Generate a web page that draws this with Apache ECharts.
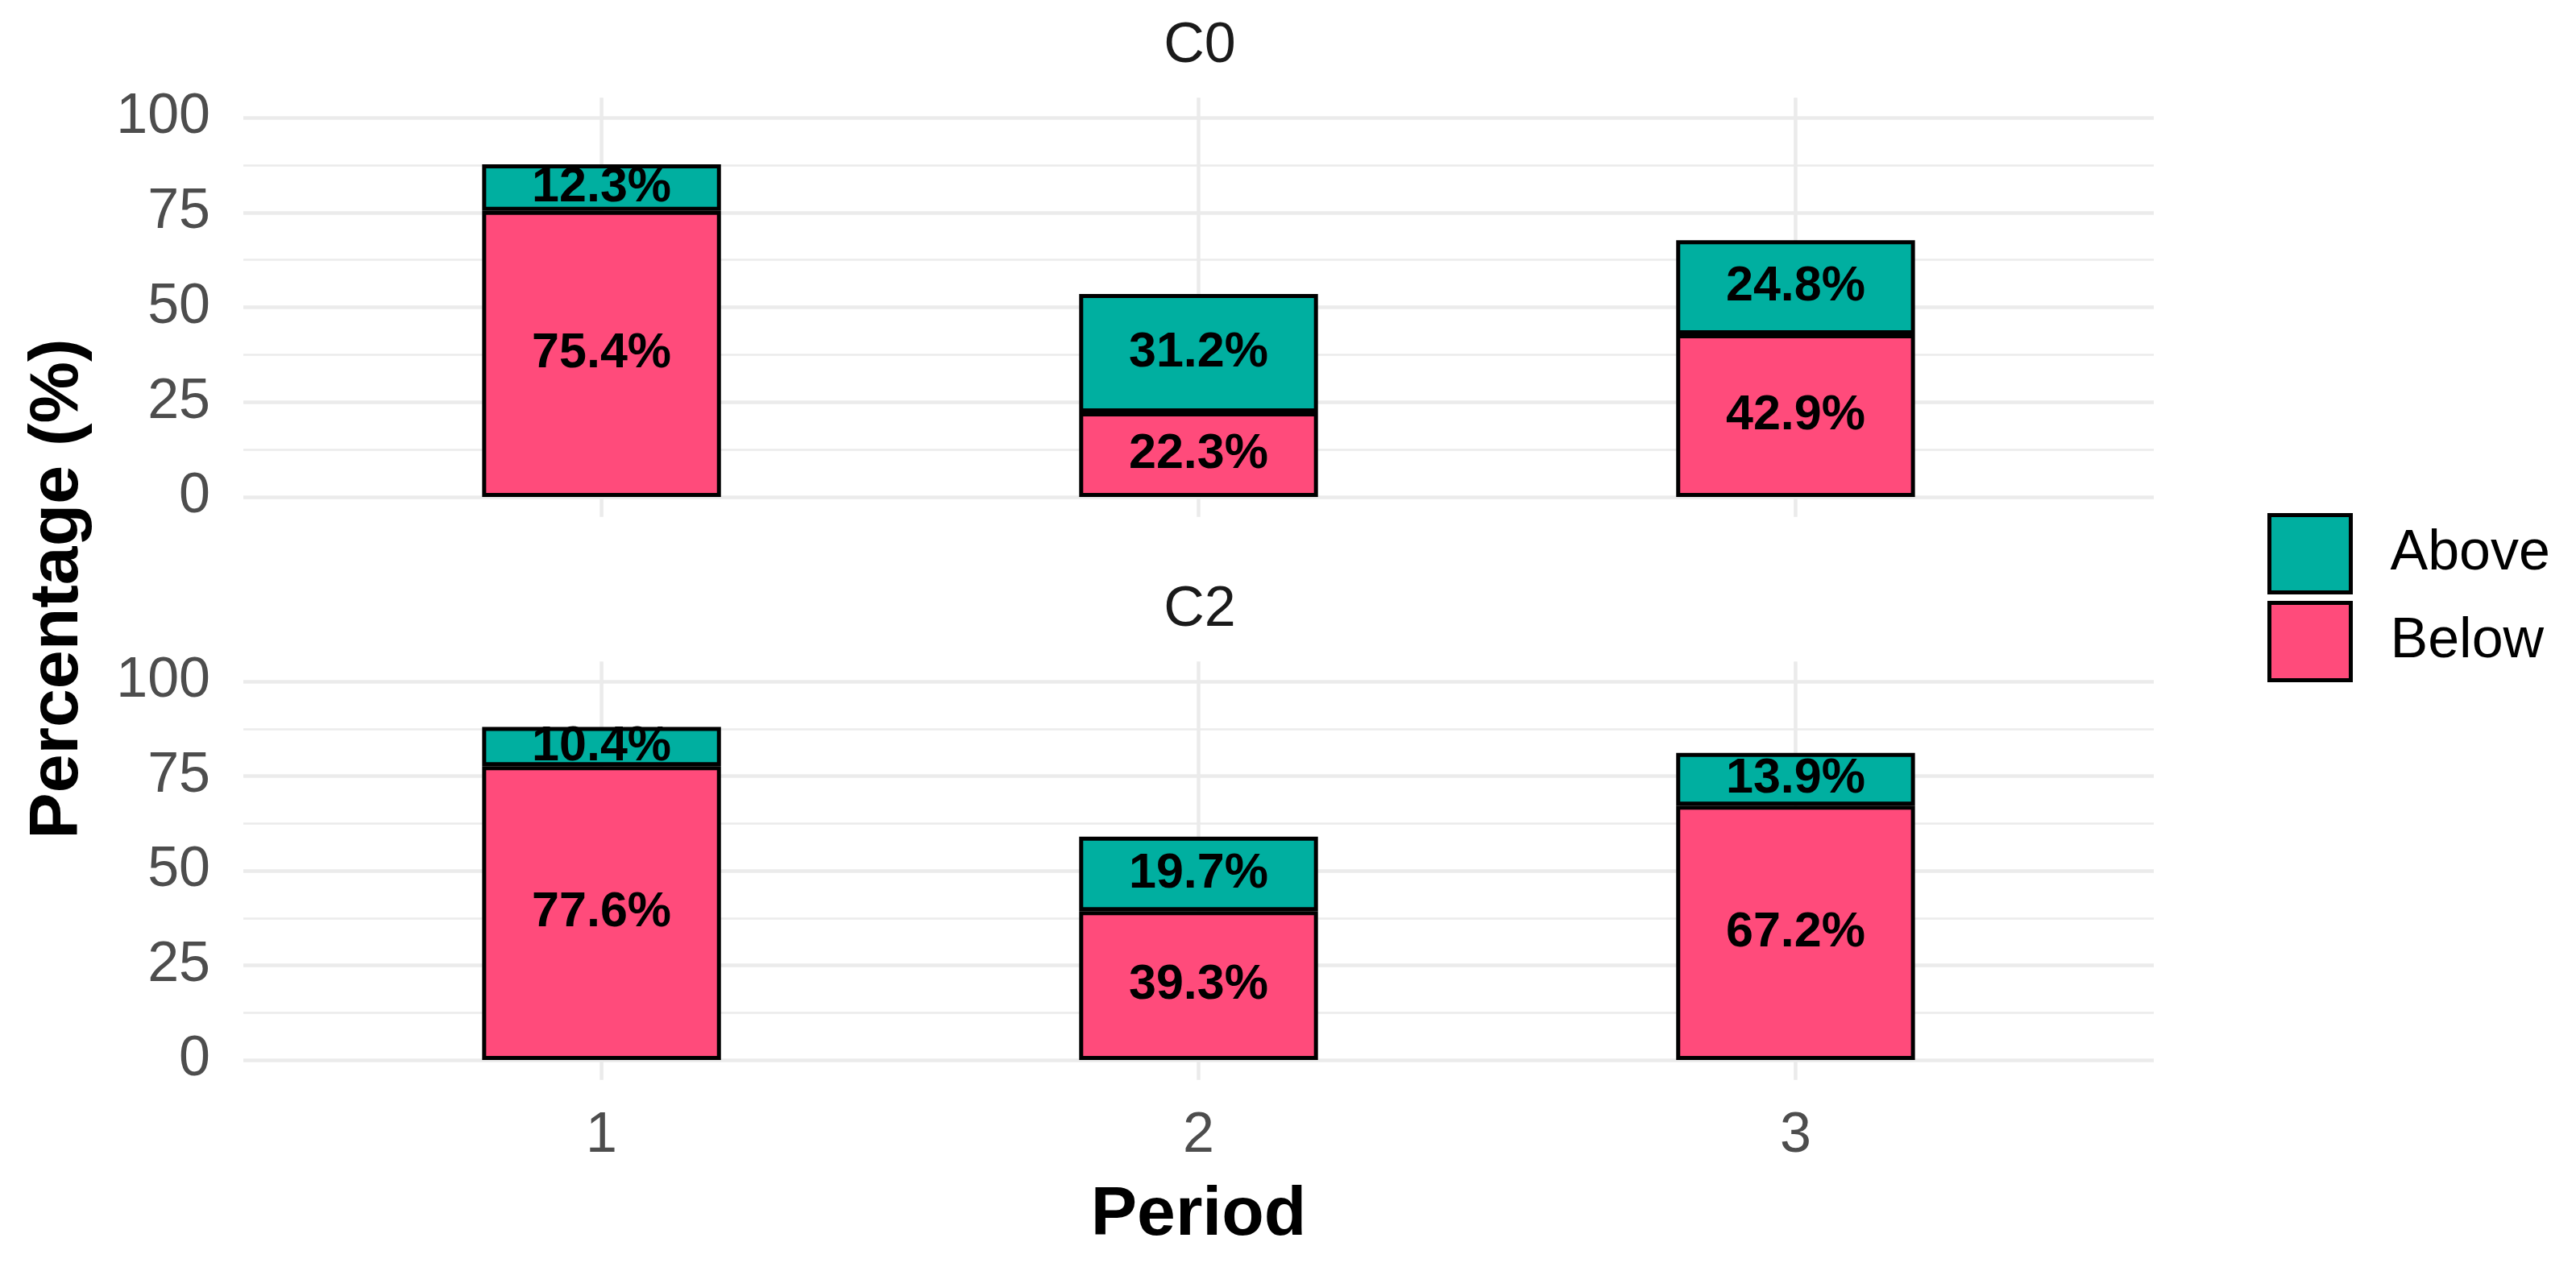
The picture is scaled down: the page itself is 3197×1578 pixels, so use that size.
<!DOCTYPE html>
<html>
<head>
<meta charset="utf-8">
<script src="https://cdn.jsdelivr.net/npm/echarts@6/dist/echarts.min.js"></script>
<style>
html, body { margin: 0; padding: 0; background: #ffffff; }
#chart { width: 3197px; height: 1578px; }
</style>
</head>
<body>
<div id="chart"></div>
<script>
// ---- data ----
const periods = ['1', '2', '3'];
const panels = ['C0', 'C2'];
const c0Below = [75.4, 22.3, 42.9];
const c0Above = [12.3, 31.2, 24.8];
const c2Below = [77.6, 39.3, 67.2];
const c2Above = [10.4, 19.7, 13.9];
const yTicks = [0, 25, 50, 75, 100];

const FONT = 'Liberation Sans, Arial, sans-serif';
const TEAL = '#00AFA0';
const PINK = '#FF4B7B';
const GRID = '#EBEBEB';
const TXT = 70;

const chart = echarts.init(document.getElementById('chart'), null, { renderer: 'canvas' });

// panel layout: full panel (with ggplot-style 0.6 category expansion) and the category band area
const PANEL_LEFT = 302, PANEL_W = 2371;
const UNIT = PANEL_W / (periods.length + 0.2);   // width of one category step
const BAND_LEFT = PANEL_LEFT + 0.1 * UNIT, BAND_W = UNIT * periods.length;
const TOPS = [146, 846], HEIGHTS = [471, 470];

const grids = [
  { left: PANEL_LEFT, width: PANEL_W, top: TOPS[0], height: HEIGHTS[0] },
  { left: PANEL_LEFT, width: PANEL_W, top: TOPS[1], height: HEIGHTS[1] },
  { left: BAND_LEFT, width: BAND_W, top: TOPS[0], height: HEIGHTS[0] },
  { left: BAND_LEFT, width: BAND_W, top: TOPS[1], height: HEIGHTS[1] }
];

const yMin = yTicks[0], yMax = yTicks[yTicks.length - 1];

// panel axes (gridlines + y labels); category k sits at value k
function panelX(i) {
  return { type: 'value', gridIndex: i, min: -0.6, max: periods.length - 1 + 0.6, show: false };
}
function panelY(i) {
  return {
    type: 'value', gridIndex: i, min: yMin, max: yMax, interval: 25,
    axisLine: { show: false }, axisTick: { show: false },
    axisLabel: { fontSize: TXT, color: '#4D4D4D', fontFamily: FONT, margin: 41 },
    splitLine: { show: true, lineStyle: { color: GRID, width: 4.5 } },
    minorTick: { show: false, splitNumber: 2 },
    minorSplitLine: { show: true, lineStyle: { color: GRID, width: 2.5 } }
  };
}
// bar axes
function barX(i, withLabels) {
  return {
    type: 'category', gridIndex: i, data: periods,
    axisLine: { show: false }, axisTick: { show: false }, splitLine: { show: false },
    axisLabel: withLabels ? { show: true, fontSize: TXT, color: '#4D4D4D', fontFamily: FONT, margin: 60 } : { show: false },
    name: withLabels ? 'Period' : '',
    nameLocation: 'middle', nameGap: 150,
    nameTextStyle: { fontSize: 86, fontWeight: 'bold', color: '#000', fontFamily: FONT }
  };
}
function barY(i) {
  return { type: 'value', gridIndex: i, min: yMin, max: yMax, show: false, splitLine: { show: false } };
}

function barSeries(name, vals, gi, color) {
  return {
    type: 'bar', name: name, stack: 'p' + gi,
    xAxisIndex: gi, yAxisIndex: gi,
    data: vals,
    barWidth: '40%', clip: false, z: 3,
    itemStyle: { color: color, borderColor: '#000', borderWidth: 5 },
    label: {
      show: true, position: 'inside',
      formatter: p => Number(p.value).toFixed(1) + '%',
      fontSize: 61, fontWeight: 'bold', color: '#000', fontFamily: FONT,
      textBorderWidth: 0
    },
    emphasis: { disabled: true }
  };
}

// vertical major gridlines at each category centre, extended like ggplot's 5% expansion
function vGridSeries(gi) {
  return {
    type: 'custom', xAxisIndex: gi, yAxisIndex: gi, silent: true, clip: false, z: 1,
    data: periods.map((p, k) => [k, 0]),
    encode: { x: 0, y: 1 },
    renderItem: (params, api) => {
      const x = api.value(0);
      const a = api.coord([x, yMin - 5.25]);
      const b = api.coord([x, yMax + 5.25]);
      return {
        type: 'line',
        shape: { x1: a[0], y1: a[1], x2: b[0], y2: b[1] },
        style: { stroke: GRID, lineWidth: 4.5 }
      };
    }
  };
}

const option = {
  backgroundColor: '#ffffff',
  animation: false,
  grid: grids,
  xAxis: [panelX(0), panelX(1), barX(2, false), barX(3, true)],
  yAxis: [panelY(0), panelY(1), barY(2), barY(3)],
  legend: {
    data: ['Above', 'Below'],
    orient: 'vertical', left: 2809, top: 632,
    icon: 'rect', itemWidth: 101, itemHeight: 96, itemGap: 8,
    itemStyle: { borderColor: '#000', borderWidth: 5 },
    textStyle: { fontSize: TXT, color: '#000', fontFamily: FONT, padding: [0, 0, 0, 44] },
    selectedMode: false
  },
  graphic: [
    { type: 'text', x: 1489, y: 58, style: { text: panels[0], fontSize: TXT, fill: '#1A1A1A', fontFamily: FONT, textAlign: 'center', textVerticalAlign: 'middle' } },
    { type: 'text', x: 1489, y: 758, style: { text: panels[1], fontSize: TXT, fill: '#1A1A1A', fontFamily: FONT, textAlign: 'center', textVerticalAlign: 'middle' } },
    { type: 'text', x: 72, y: 731, rotation: Math.PI / 2, style: { text: 'Percentage (%)', fontSize: 86, fontWeight: 'bold', fill: '#000', fontFamily: FONT, textAlign: 'center', textVerticalAlign: 'middle' } }
  ],
  series: [
    vGridSeries(0), vGridSeries(1),
    barSeries('Below', c0Below, 2, PINK),
    barSeries('Above', c0Above, 2, TEAL),
    barSeries('Below', c2Below, 3, PINK),
    barSeries('Above', c2Above, 3, TEAL)
  ]
};
chart.setOption(option);
</script>
</body>
</html>
